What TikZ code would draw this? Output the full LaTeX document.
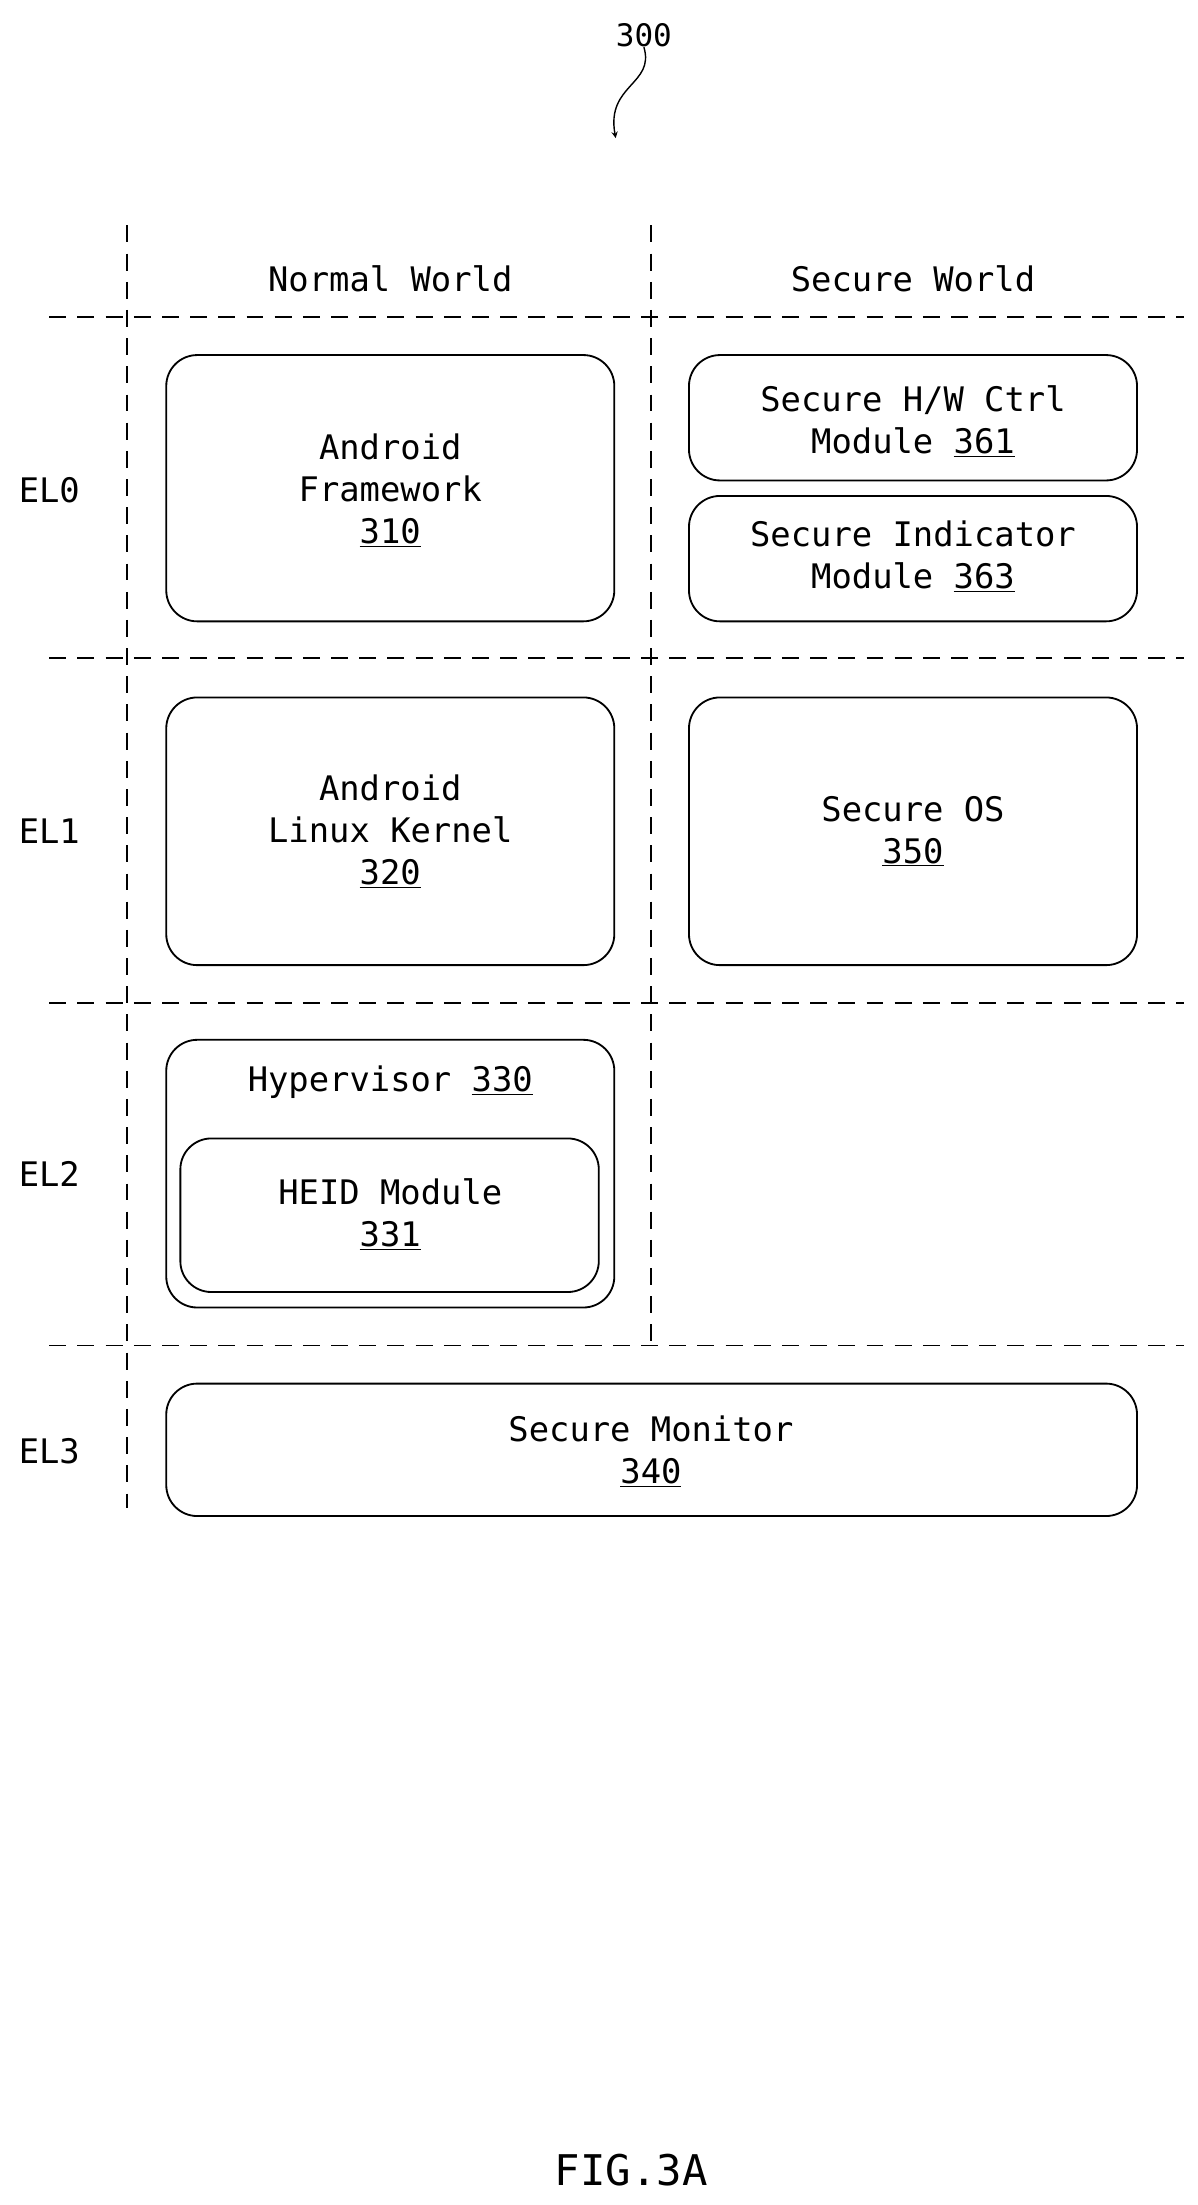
\documentclass[tikz,border=0pt]{standalone}
\usepackage{fontspec}
\setmainfont{DejaVu Sans Mono}
\usetikzlibrary{calc}
\tikzset{
  block/.style={draw=black, line width=1.3pt, rounded corners=22pt},
  sep/.style={draw=black, line width=1pt, dash pattern=on 12pt off 8pt},
  lbl/.style={font=\fontsize{24}{30}\selectfont, align=center, inner sep=0pt}
}
\def\num#1{\underline{#1}}
\begin{document}
\begin{tikzpicture}[x=1pt,y=-1pt]
\useasboundingbox (0,0) rectangle (850,1565);

% ---------- separators
\coordinate (vl_top) at (90,160);
\coordinate (vl_bot) at (90,1070);
\coordinate (vr_top) at (462,160);
\coordinate (vr_bot) at (462,955);
\draw[sep] (vl_top) -- (vl_bot);
\draw[sep] (vr_top) -- (vr_bot);
\foreach \y in {225,467,712,955}
  \draw[sep] (35,\y) -- (840,\y);

% ---------- headers
\node[lbl] (normal) at (277,198) {Normal World};
\node[lbl] (secure) at (648,198) {Secure World};
\node[lbl] (el0) at (35,348) {EL0};
\node[lbl] (el1) at (35,590) {EL1};
\node[lbl] (el2) at (35,833) {EL2};
\node[lbl] (el3) at (35,1030) {EL3};

% ---------- EL0
\draw[block] (118,252) rectangle (436,441);
\node[lbl] (fw) at (277,348) {Android\\Framework\\\num{310}};
\draw[block] (489,252) rectangle (807,341);
\node[lbl] (hwctrl) at (648,299) {Secure H/W Ctrl\\Module \num{361}};
\draw[block] (489,352) rectangle (807,441);
\node[lbl] (ind) at (648,395) {Secure Indicator\\Module \num{363}};

% ---------- EL1
\draw[block] (118,495) rectangle (436,685);
\node[lbl] (kernel) at (277,590) {Android\\Linux Kernel\\\num{320}};
\draw[block] (489,495) rectangle (807,685);
\node[lbl] (sos) at (648,590) {Secure OS\\\num{350}};

% ---------- EL2
\draw[block] (118,738) rectangle (436,928);
\node[lbl] (hyp) at (277,768) {Hypervisor \num{330}};
\draw[block] (128,808) rectangle (425,917);
\node[lbl] (heid) at (277,862) {HEID Module\\\num{331}};

% ---------- EL3
\draw[block] (118,982) rectangle (807,1076);
\node[lbl] (mon) at (462,1030) {Secure Monitor\\\num{340}};

% ---------- reference numeral and figure label
\node[lbl, font=\fontsize{22}{26}\selectfont] (ref) at (457,25) {300};
\coordinate (ref_tip) at (437,98);
\draw[line width=1pt, -stealth] (ref.south) .. controls (465,60) and (430,60) .. (ref_tip);
\node[lbl, font=\fontsize{30}{36}\selectfont] (fig) at (448,1540) {FIG.3A};
\end{tikzpicture}
\end{document}
